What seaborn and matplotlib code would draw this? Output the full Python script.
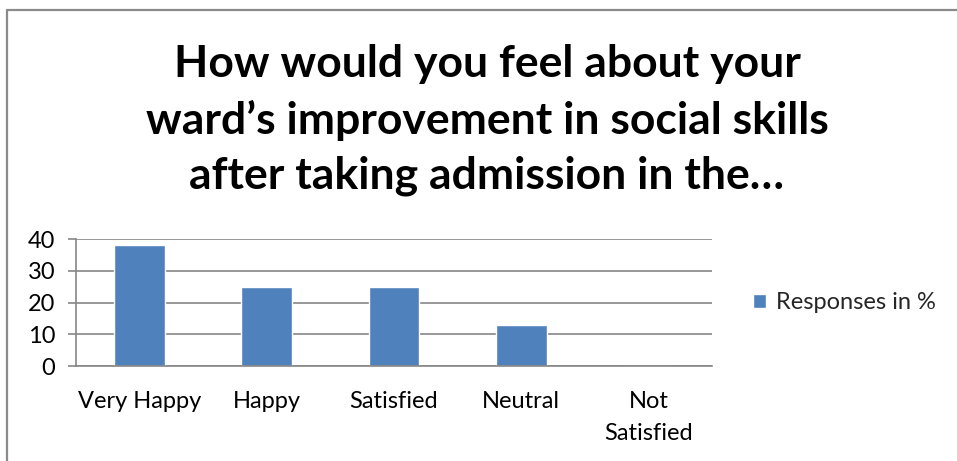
import matplotlib
matplotlib.use("Agg")
import matplotlib.pyplot as plt
import seaborn as sns
import pandas as pd
from matplotlib.lines import Line2D

categories = ["Very Happy", "Happy", "Satisfied", "Neutral", "Not\nSatisfied"]
responses = [38, 25, 25, 13, 0]
series_name = "Responses in %"
title = "How would you feel about your\nward\u2019s improvement in social skills\nafter taking admission in the\u2026"
yticks = [0, 10, 20, 30, 40]

sns.set_theme(style="white")
plt.rcParams['font.family'] = ['Lato', 'DejaVu Sans']

df = pd.DataFrame({"Category": categories, "Value": responses, "Series": series_name})

fig = plt.figure(figsize=(9.57, 4.61), dpi=100)
ax = fig.add_axes([76/957, 1-366/461, (712-76)/957, (366-239)/461])

sns.barplot(data=df, x="Category", y="Value", hue="Series", palette=["#4F81BD"],
            width=0.4, ax=ax, saturation=1, legend=True)

ax.set_ylim(0, 40)
ax.set_xlim(-0.5, len(categories)-0.5)
ax.set_yticks(yticks)
ax.set_yticklabels([str(t) for t in yticks], fontsize=17, color="black")
ax.yaxis.grid(True, color="#868686", linewidth=1.2)
ax.set_axisbelow(True)
ax.set_xlabel("")
ax.set_ylabel("")
for s in ["top", "right"]:
    ax.spines[s].set_visible(False)
for s in ["left", "bottom"]:
    ax.spines[s].set_color("#868686")
    ax.spines[s].set_linewidth(1.2)

# ticks between categories
ax.set_xticks([i - 0.5 for i in range(len(categories)+1)], minor=True)
ax.set_xticks(range(len(categories)))
ax.set_xticklabels(categories, fontsize=17, color="black", linespacing=1.65)
ax.tick_params(axis="x", which="major", length=0, pad=18)
ax.tick_params(axis="x", which="minor", length=6, width=1.2, color="#868686", direction="out")
ax.tick_params(axis="y", length=6, width=1.2, color="#868686", direction="out", left=True, pad=9)
for lbl in ax.get_xticklabels():
    lbl.set_verticalalignment("top")

leg = ax.legend(loc="center left", bbox_to_anchor=(1.065, 0.5), frameon=False,
                fontsize=17, handlelength=0.55, handleheight=0.55, handletextpad=0.4,
                borderpad=0, borderaxespad=0)

fig.text(487/957, 1-120/461, title, ha="center", va="center", fontsize=32,
         fontweight="bold", linespacing=1.45, color="black")

fig.add_artist(Line2D([7/957, 7/957], [0, 1-10/461], transform=fig.transFigure,
                      color="#8a8a8a", linewidth=1.6))
fig.add_artist(Line2D([7/957, 1], [1-10/461, 1-10/461], transform=fig.transFigure,
                      color="#8a8a8a", linewidth=1.6))

fig.savefig("out.png", dpi=100)
